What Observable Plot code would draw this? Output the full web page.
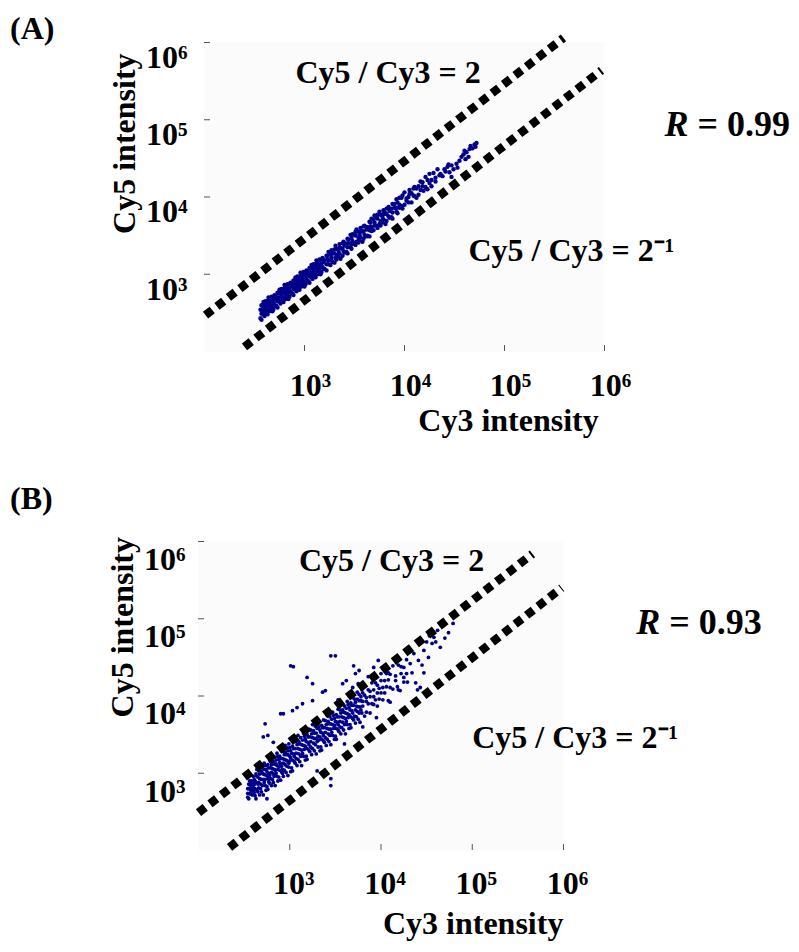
<!DOCTYPE html>
<html><head><meta charset="utf-8">
<script src="https://cdn.jsdelivr.net/npm/d3@7"></script>
<script src="https://cdn.jsdelivr.net/npm/@observablehq/plot@0.6"></script>
<style>
body{margin:0;background:#fff;}
#wrap{position:relative;width:799px;height:952px;font-family:'Liberation Serif','Times New Roman',serif;}
.tag{position:absolute;left:10px;font-size:32px;font-weight:bold;line-height:1;}
#chartA{position:absolute;left:0;top:0;}
#chartB{position:absolute;left:0;top:460px;}
</style></head><body>
<div id="wrap">
<div class="tag" style="top:12px">(A)</div>
<div class="tag" style="top:482px">(B)</div>
<div id="chartA"></div><div id="chartB"></div>
</div>
<script>
// ---- data (log10 intensity × 100) ----
const tickValues = [1e3, 1e4, 1e5, 1e6];
const tickLabels = ["10³", "10⁴", "10⁵", "10⁶"];
const xTitle = "Cy3 intensity";
const yTitle = "Cy5 intensity";
const ratioUpLabel = "Cy5 / Cy3 = 2";
const ratioDownLabel = "Cy5 / Cy3 = 2⁻¹";
const rA = "\u00a0= 0.99";
const rB = "\u00a0= 0.93";

// reference lines [log10 Cy3 ×100, log10 Cy5 ×100] end points
const lineA_up = [[201,247],[559,606]];
const lineA_down = [[240,206],[597,564]];
const lineB_up = [[200,249],[566,584]];
const lineB_down = [[234,204],[598,540]];

// panel A spots [log10 Cy3 ×100, log10 Cy5 ×100]
const spotsA = [[256,243],[256,254],[257,249],[257,260],[257,241],[258,254],[258,259],[259,248],[259,264],[259,253],[260,246],[260,260],[261,252],[261,265],[261,256],[262,250],[262,261],[263,265],[263,248],[263,260],[264,254],[264,270],[265,258],[265,252],[265,266],[266,262],[266,255],[267,266],[267,271],[267,259],[268,252],[268,266],[269,271],[269,264],[269,255],[270,273],[270,261],[271,271],[271,259],[271,268],[272,259],[272,270],[273,265],[273,276],[273,257],[274,270],[274,275],[275,264],[275,280],[275,269],[276,262],[276,276],[277,268],[277,281],[277,272],[278,266],[278,277],[279,281],[279,264],[279,276],[280,270],[280,286],[281,274],[281,268],[281,282],[282,278],[282,271],[283,282],[283,287],[283,275],[284,268],[284,282],[285,287],[285,280],[285,271],[286,289],[286,277],[287,287],[287,275],[287,284],[288,275],[288,286],[289,281],[289,292],[289,273],[290,286],[290,291],[291,280],[291,296],[291,285],[292,278],[292,292],[293,284],[293,297],[293,288],[294,282],[294,293],[295,297],[295,280],[295,292],[296,286],[296,302],[297,290],[297,284],[297,298],[298,294],[298,287],[299,298],[299,303],[299,291],[300,284],[300,298],
[301,303],[301,296],[301,287],[302,305],[302,293],[303,303],[303,291],[303,300],[304,291],[304,302],[305,297],[305,308],[305,289],[306,302],[306,307],[307,296],[307,312],[307,301],[308,294],[308,308],[309,300],[309,313],[309,304],[310,298],[310,309],[311,313],[311,296],[311,308],[312,302],[312,318],[313,306],[313,300],[313,314],[314,310],[314,303],[315,314],[315,319],[315,307],[316,300],[316,314],[317,319],[317,312],[317,303],[318,321],[318,309],[319,319],[319,307],[319,316],[320,307],[320,318],[322,313],[322,324],[322,305],[323,319],[323,324],[324,313],[324,329],[324,318],[326,312],[326,326],[327,318],[327,331],[327,322],[328,316],[328,327],[330,332],[330,315],[330,327],[331,321],[331,337],[332,325],[332,319],[332,333],[334,330],[334,323],[335,334],[335,339],[335,327],[336,320],[336,334],[338,340],[338,333],[338,324],[339,342],[339,330],[340,340],[340,328],[340,337],[342,329],[342,340],[343,335],[343,346],[343,327],[344,340],[344,345],[346,335],[346,351],[346,340],[347,333],[347,347],[348,339],[348,352],[348,343],[350,340],[350,351],[351,355],[351,338],[351,350],[352,342],[352,358],[354,347],[354,341],[354,355],[355,351],[355,344],[356,355],[356,360],[356,348],[358,342],[358,356],[359,362],[359,355],[359,346],[360,363],[360,351],[362,361],[362,349],[362,358],[363,350],[363,361],[365,357],[365,368],[365,349],[366,362],[366,367],[367,356],[367,372],[367,361],[369,357],[369,371],[370,363],[370,376],[370,367],[372,363],[372,374],[373,377],[373,360],[373,372],[375,365],[375,381],[376,369],[376,363],[376,377],[378,374],[378,367],[379,378],[379,383],[379,371],[381,365],[381,379],[382,385],[382,378],[382,369],[384,387],[384,375],[385,385],[385,373],[385,382],[387,374],[387,385],[388,380],[388,391],[388,372],[390,386],[390,391],[392,381],[392,397],[392,386],[393,379],[393,393],[395,386],[395,399],[395,390],[397,388],[397,399],[398,402],[398,385],[400,390],[400,406],[402,395],[402,398],[404,400],[404,393],[405,404],[405,409],[407,393],[407,405],[409,411],[409,402],[410,413],[410,401],[412,411],[412,399],[414,403],[414,414],[416,409],[416,420],[418,414],[418,419],[419,408],[421,413],[421,426],[423,410],[423,422],[425,418],[425,430],[427,422],[427,414],[429,431],[431,425],[431,420],[433,436],[435,428],
[436,430],[438,427],[440,436],[441,433],[443,439],[445,432],[447,441],[449,436],[452,443],[455,447],[457,452],[459,455],[460,460],[462,458],[464,452],[465,462],[466,466],[468,463],[470,468],[471,465],[472,470],[461,449],[447,426],[453,438],[444,442]];

// panel B spots [log10 Cy3 ×100, log10 Cy5 ×100]
const spotsB = [[254,269],[254,280],[254,274],[255,286],[255,267],[255,280],[256,285],[256,274],[256,290],[257,279],[257,273],[257,285],[258,277],[258,290],[258,281],[259,272],[259,288],[259,285],[260,277],[260,296],[260,281],[261,292],[261,275],[261,285],
[262,271],[262,290],[262,280],[263,299],[263,267],[263,288],[264,296],[264,278],[264,305],[265,286],[265,276],[265,295],[266,281],[266,303],[266,288],[267,272],[267,299],[267,293],[268,280],[268,311],[268,286],[269,303],[269,276],[269,292],[270,300],[270,284],[270,308],[271,292],[271,272],[271,299],[272,305],[272,288],[272,313],[273,284],[273,298],[273,292],[274,310],[274,278],[274,305],[275,297],[275,283],[275,302],[276,293],[276,311],[276,279],[277,300],[277,307],[277,289],[278,317],[278,297],[278,287],[279,307],[279,293],[279,315],[280,301],[280,284],[280,311],[281,306],[281,292],[281,323],[282,299],[282,315],[282,288],[283,305],[283,312],[283,296],[284,321],[284,304],[284,284],[285,312],[285,317],[285,300],[286,326],[286,296],[286,310],[287,305],[287,322],[287,290],[288,318],[288,309],[288,295],[289,314],[289,304],[289,322],[290,291],[290,312],[290,319],[291,302],[291,329],[291,309],[292,300],[292,319],[292,305],[293,328],[293,313],[293,296],[294,324],[294,318],[294,304],[295,336],[295,311],[295,327],[296,301],[296,317],[296,324],[297,309],[297,333],[297,316],[298,297],[298,324],[298,329],[299,313],[299,338],[299,308],[300,322],[300,316],[300,333],
[301,302],[301,329],[301,320],[302,307],[302,326],[303,317],[303,335],[303,303],[304,325],[304,332],[305,315],[305,342],[305,322],[306,313],[306,332],[307,319],[307,341],[307,326],[308,310],[308,337],[309,332],[309,318],[309,349],[310,325],[310,341],[311,315],[311,331],[311,338],[312,322],[312,346],[313,330],[313,310],[313,337],[314,343],[314,326],[315,352],[315,322],[315,336],[316,331],[316,348],[317,317],[317,344],[317,335],[318,322],[318,341],[319,332],[319,350],[319,318],[320,340],[320,347],[321,330],[321,357],[321,337],[322,328],[322,347],[323,334],[323,356],[323,341],[324,324],[324,351],[325,346],[325,332],[325,363],[326,339],[326,355],[327,329],[327,345],[327,352],[328,337],[328,361],[329,345],[329,325],[329,352],[330,358],[330,341],
[331,364],[331,334],[331,348],[332,343],[332,360],[333,329],[333,356],[333,347],[334,334],[334,353],[335,344],[335,362],[335,330],[336,352],[336,359],[337,342],[337,369],[337,349],[338,340],[338,359],[339,346],[339,368],[339,353],[340,336],[340,363],[341,358],[341,344],[341,375],[342,351],[342,367],[343,341],[343,357],[343,364],[344,349],[344,373],[345,357],[345,337],[345,364],[346,370],[346,353],[347,379],[347,349],[347,363],[348,358],[348,375],[349,344],[349,371],[349,362],[350,348],[350,367],[351,358],[351,376],[351,344],[352,366],[352,373],[353,356],[353,383],[353,363],[354,354],[354,373],[355,360],[355,382],[355,367],[356,351],[356,378],[357,373],[357,359],[357,390],[358,366],[358,382],[359,356],[359,372],[359,379],[360,363],[360,387],[361,371],[361,351],[361,378],[362,384],[362,367],[363,393],[363,363],[363,377],[364,372],[364,389],[365,358],[365,385],[365,376],[366,363],[366,382],[367,373],[367,391],[367,359],[368,381],[368,388],[369,371],[369,398],[369,378],[370,369],[370,388],[371,374],[371,396],[372,382],[372,365],[372,392],[373,387],[373,373],[374,405],[374,380],[374,396],[375,370],[375,386],[376,394],[376,378],[376,402],[377,386],[377,366],[378,394],[378,399],[378,382],[379,408],[379,378],[380,393],[380,387],[380,404],
[382,374],[382,401],[384,393],[384,379],[384,398],[386,390],[386,408],[388,378],[388,399],[388,406],[390,390],[390,417],[392,399],[392,389],[392,408],[394,395],[394,417],[396,404],[396,387],[396,414],[398,410],[398,396],[400,429],[400,404],[400,420],[402,395],[402,411],[404,420],[404,404],[406,429],[406,412],[408,394],[408,421],[410,428],[410,411],[413,439],[413,409],[416,426],[416,420],[419,440],[419,408],[422,438],[422,429],[425,418],[425,437],[428,429],[428,447],
[474,482],[468,491],[465,463],[456,468],[447,459],[441,446],[432,442],[425,424],[447,430],[421,407],[443,411],[438,417],[458,476],[462,485],[452,450],[436,455],[470,475],[445,440],[429,418],[434,430],[460,470],[450,470],[479,494],[453,478],[418,412],[440,408],
[301,439],[304,438],[345,452],[350,452],[325,416],[319,424],[336,405],[339,407],[303,381],[308,385],[314,390],[325,394],[273,364],[271,347],[276,349],[290,377],[293,377],[282,340],[370,439],[358,416],[372,429],[376,433],[369,411],[375,416],[392,437],[397,446],[408,430],[353,395],[362,420],[386,425],[345,284],[345,293],[275,267],[330,303],[360,338],[395,372],[380,360],[410,392]];

// ---- layout (positions in log10 data units, offsets in px) ----
const FONT = "'Liberation Serif','Times New Roman',serif";
const ticks = tickValues.map((v, i) => ({v, label: tickLabels[i]}));
const L = v => 10 ** v;
const toX = d => 10 ** (d[0] / 100), toY = d => 10 ** (d[1] / 100);

const layoutA = {
  height: 460, margins: [204, 195, 42, 109],
  spots: spotsA, dotR: 2.2, up: lineA_up, down: lineA_down, r: rA,
  xTick: {dx: 6, dy: 44}, yTick: {dx: -17, dy: 15},
  xTitle: {x: 5.04, dy: 79}, yTitle: {y: 4.69, dx: -80},
  upLab: {x: 2.91, y: 5.61}, downLab: {x: 4.64, y: 3.31}, rLab: {x: 6.84, y: 4.94}
};
const layoutB = {
  height: 492, margins: [198, 236, 81, 102],
  spots: spotsB, dotR: 1.9, up: lineB_up, down: lineB_down, r: rB,
  xTick: {dx: 4, dy: 43}, yTick: {dx: -13, dy: 18},
  xTitle: {x: 5.01, dy: 83}, yTitle: {y: 4.89, dx: -76},
  upLab: {x: 3.10, y: 5.75}, downLab: {x: 5.00, y: 3.46}, rLab: {x: 7.06, y: 4.95}
};

function panel(c) {
  const bold = {fontFamily: FONT, fontWeight: "bold", fontSize: 32, fill: "black"};
  const dash = {stroke: "black", strokeWidth: 8.5, strokeDasharray: "8.5,6", strokeLinecap: "butt", strokeLinejoin: "miter"};
  const [ml, mr, mt, mb] = c.margins;
  return Plot.plot({
    width: 799, height: c.height,
    marginLeft: ml, marginRight: mr, marginTop: mt, marginBottom: mb,
    x: {type: "log", domain: [1e2, 1e6]},
    y: {type: "log", domain: [1e2, 1e6]},
    style: {fontFamily: FONT, background: "transparent", overflow: "visible"},
    marks: [
      Plot.frame({fill: "#fbfbfb", stroke: null}),
      Plot.axisX({ticks: tickValues, tickFormat: () => "", tickSize: -6, line: true, stroke: "#555", label: null}),
      Plot.axisY({ticks: tickValues, tickFormat: () => "", tickSize: -6, line: true, stroke: "#555", label: null}),
      Plot.dot(c.spots, {x: toX, y: toY, r: c.dotR, fill: "#00008b", stroke: null}),
      Plot.line(c.up, {x: toX, y: toY, ...dash}),
      Plot.line(c.down, {x: toX, y: toY, ...dash}),
      Plot.text(ticks, {x: "v", text: "label", frameAnchor: "bottom", dx: c.xTick.dx, dy: c.xTick.dy, ...bold}),
      Plot.text(ticks, {y: "v", text: "label", frameAnchor: "left", textAnchor: "end", dx: c.yTick.dx, dy: c.yTick.dy, ...bold}),
      Plot.text([xTitle], {x: () => L(c.xTitle.x), text: d => d, frameAnchor: "bottom", textAnchor: "middle", dy: c.xTitle.dy, ...bold}),
      Plot.text([yTitle], {y: () => L(c.yTitle.y), text: d => d, frameAnchor: "left", textAnchor: "middle", rotate: -90, dx: c.yTitle.dx, ...bold}),
      Plot.text([ratioUpLabel], {x: () => L(c.upLab.x), y: () => L(c.upLab.y), text: d => d, textAnchor: "start", ...bold}),
      Plot.text([ratioDownLabel], {x: () => L(c.downLab.x), y: () => L(c.downLab.y), text: d => d, textAnchor: "start", ...bold}),
      Plot.text(["R"], {x: () => L(c.rLab.x), y: () => L(c.rLab.y), text: d => d, textAnchor: "end", ...bold, fontSize: 36, fontStyle: "italic"}),
      Plot.text([c.r], {x: () => L(c.rLab.x), y: () => L(c.rLab.y), text: d => d, textAnchor: "start", ...bold, fontSize: 36})
    ]
  });
}
document.getElementById("chartA").append(panel(layoutA));
document.getElementById("chartB").append(panel(layoutB));
</script>
</body></html>
